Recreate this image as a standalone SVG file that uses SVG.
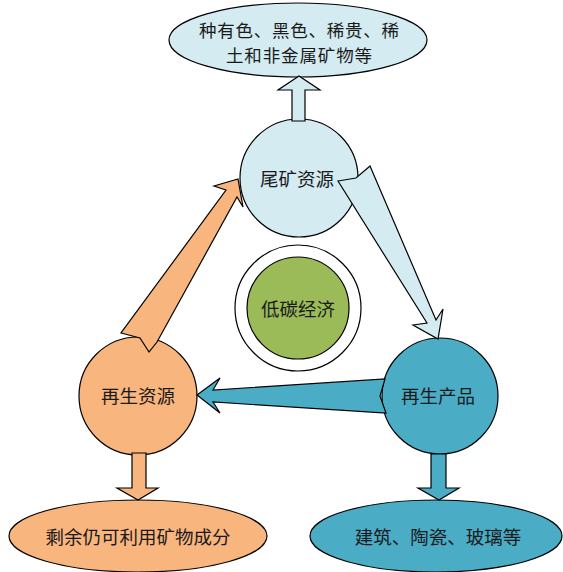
<svg xmlns="http://www.w3.org/2000/svg" width="563" height="572" viewBox="0 0 563 572">
<style>
.s{stroke:#000;stroke-width:1.2;stroke-linejoin:miter}
.lb{fill:#D3EBF1}
.or{fill:#F8B57D}
.tl{fill:#4BACC6}
.gr{fill:#9BBB59}
text{font-family:"Noto Sans CJK SC","Noto Sans CJK JP",sans-serif;font-size:18.5px;fill:#1a1a1a;text-anchor:middle;dominant-baseline:central}
.t2{font-size:17.5px}
</style>
<rect width="563" height="572" fill="#fff"/>
<g id="top-ellipse">
<ellipse class="s lb" cx="298" cy="40" rx="129" ry="37"/>
<text class="t2" x="299" y="29" textLength="200">种有色、黑色、稀贵、稀</text>
<text class="t2" x="299" y="54" textLength="146">土和非金属矿物等</text>
</g>
<g id="tailings">
<circle class="s lb" cx="299" cy="178" r="59"/>
<text x="297" y="178">尾矿资源</text>
</g>
<g id="lowcarbon">
<circle class="s" fill="#fff" cx="298" cy="308" r="63"/>
<circle class="s gr" cx="298" cy="308" r="51"/>
<text x="298" y="308">低碳经济</text>
</g>
<g id="recycled-resources">
<circle class="s or" cx="138" cy="396" r="59"/>
<text x="138" y="395">再生资源</text>
</g>
<g id="recycled-products">
<circle class="s tl" cx="440" cy="396" r="58"/>
<text x="438" y="395">再生产品</text>
</g>
<g id="bottom-left">
<ellipse class="s or" cx="138" cy="536" rx="129" ry="36"/>
<text x="138" y="536">剩余仍可利用矿物成分</text>
</g>
<g id="bottom-right">
<ellipse class="s tl" cx="436" cy="536" rx="126" ry="36"/>
<text x="438" y="536">建筑、陶瓷、玻璃等</text>
</g>
<g id="connectors">
<polygon class="s lb" points="292,121 292,90 278,90 299,76 320,90 305,90 305,121"/>
<polygon class="s or" points="132,453 132,488 117,488 138,500 158,488 146,488 146,453"/>
<polygon class="s tl" points="431,454 431,488 418,488 439,500 459,488 446,488 446,454"/>
<polygon class="s lb" points="338,181 356,178 370,166 436,320 443,309 438,339 413,325 427,323"/>
<polygon class="s or" points="238,179 243,207 237,197 157,342 149,352 140,338 121,333 226,190 214,186"/>
<polygon class="s tl" points="197,395 220,378 213,390 385,379 380,396 386,413 213,402 220,413"/>
</g>
</svg>
